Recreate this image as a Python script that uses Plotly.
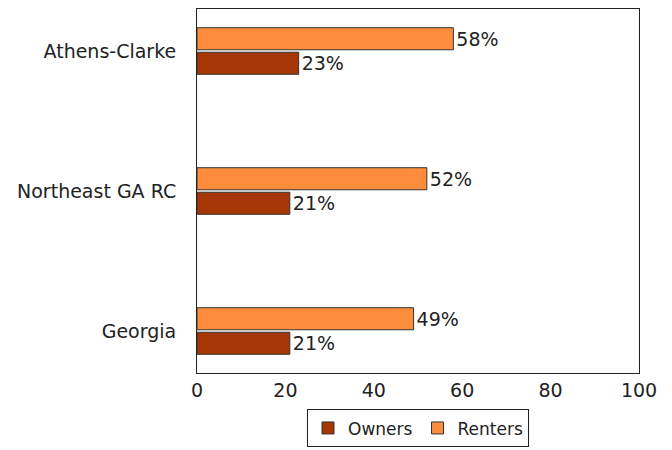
import plotly.graph_objects as go

categories = ["Georgia", "Northeast GA RC", "Athens-Clarke"]
owners = [21, 21, 23]
renters = [49, 52, 58]
x_ticks = [0, 20, 40, 60, 80, 100]

FONT = "DejaVu Sans"
FS = 19

fig = go.Figure()
fig.add_trace(go.Bar(
    y=categories, x=owners, orientation="h", name="Owners",
    marker=dict(color="#A63603", line=dict(color="#333333", width=1)),
    text=[f"{v}%" for v in owners], textposition="outside",
    textfont=dict(size=FS, color="#222222", family=FONT), cliponaxis=False,
))
fig.add_trace(go.Bar(
    y=categories, x=renters, orientation="h", name="Renters",
    marker=dict(color="#FD8D3C", line=dict(color="#333333", width=1)),
    text=[f"{v}%" for v in renters], textposition="outside",
    textfont=dict(size=FS, color="#222222", family=FONT), cliponaxis=False,
))

fig.update_layout(
    width=672, height=450,
    margin=dict(l=189, r=41, t=1, b=85),
    paper_bgcolor="white", plot_bgcolor="white",
    barmode="group", bargap=0.65, bargroupgap=0.1,
    font=dict(family=FONT, size=FS, color="#222222"),
    showlegend=True,
    legend=dict(
        orientation="h", x=0.5, xanchor="center", y=-0.1, yanchor="top",
        bordercolor="#222222", borderwidth=1, font=dict(size=17),
        traceorder="normal", itemwidth=30, tracegroupgap=0,
    ),
    xaxis=dict(
        range=[0, 100], tickvals=x_ticks, showgrid=False, zeroline=False,
        showline=True, linecolor="#222222", linewidth=1, mirror=True,
        ticks="", tickfont=dict(size=FS),
    ),
    yaxis=dict(
        type="category", categoryorder="array", categoryarray=categories,
        range=[-0.3, 2.3], showgrid=False, zeroline=False,
        showline=True, linecolor="#222222", linewidth=1, mirror=True,
        ticks="outside", ticklen=16, tickcolor="rgba(0,0,0,0)",
        tickfont=dict(size=FS),
    ),
)

fig.write_html("out.html")
